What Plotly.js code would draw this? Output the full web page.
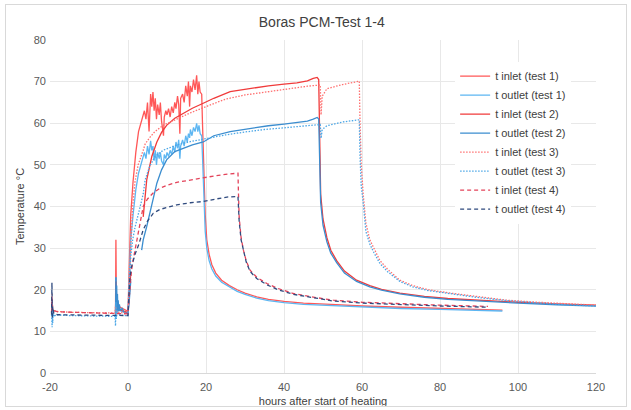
<!DOCTYPE html>
<html>
<head>
<meta charset="utf-8">
<script src="https://cdn.plot.ly/plotly-3.0.1.min.js"></script>
<style>
  html, body { margin: 0; padding: 0; background: #fff; }
  #wrap { position: relative; width: 631px; height: 410px; }
  #chart { width: 631px; height: 410px; }
  #frame { position: absolute; left: 5px; top: 4px; width: 620px; height: 401px; border: 1px solid #d9d9d9; pointer-events: none; }
</style>
</head>
<body>
<div id="wrap"><div id="chart"></div><div id="frame"></div></div>
<script>
// ---- Data (hours after start of heating, temperature °C) ----
const seriesNames = ["t inlet (test 1)", "t outlet (test 1)", "t inlet (test 2)", "t outlet (test 2)",
                     "t inlet (test 3)", "t outlet (test 3)", "t inlet (test 4)", "t outlet (test 4)"];

// Test 1 (solid, noisy, heating ends ~19 h)
const hoursT1 = [-3.2,-3.1,-3.0,-2.9,-2.6,-2,-1,0,0.3,0.7,1.3,2,2.7,3.5,4.2,
  4.6,5,5.4,5.8,6.1,6.4,6.7,7,7.3,7.6,8,8.3,8.6,9.1,9.3,9.7,10,10.4,10.8,11.2,11.6,12,12.3,12.7,13,13.3,13.5,14,14.4,14.8,15.2,15.5,15.8,16,16.4,16.8,17.2,17.6,17.9,18.2,18.5,18.9,
  19.1,19.3,19.5,19.8,20.2,20.8,21.5,22.5,24,26,28,30,33,36,40,45,52,60,70,80,90,96];
const inletT1 = [14.5,32,20,18,16.5,15.8,15.2,14.8,25,38,46,53,58,61,63,
  61,65,58,67,64,67.5,63,66,61,64.5,62,65,60.5,57,61.5,63,62,63.5,61.5,64,62.5,65,63.5,66.5,64.5,57.5,66,67,65,69,66.5,70,64,69,67.5,70.5,68,71.5,67,70,67.5,67,
  60,52,45,38,32,28.5,26,24,22.3,21,20,19.2,18.3,17.7,17.2,16.8,16.5,16.1,15.8,15.5,15.3,15.1];
const outletT1 = [13,23,18,16.5,15.5,15,14.6,14.3,22,32,38,44,48,51,53,
  51.5,54.5,52.5,55.8,53.5,54.5,51,53.5,50,53,51.5,53,51,50,52.5,51.5,53,52,53.5,52.5,54.5,53,55.5,54,56,51.5,54.5,56,54.5,57,55.5,57.5,56.5,58.5,57,59,58,60,58,59.5,57.5,57,
  52,46,40,34,30,27,25,23.3,21.8,20.6,19.6,18.9,18,17.4,16.9,16.5,16.2,15.8,15.5,15.3,15.1,14.9];

// Test 2 (solid, heating ends ~49 h); data gap during early heating
const hoursT2 = [-3.2,-3.1,-3.0,-2.9,-2.8,-2.7,-2.6,-2.5,-2.4,-2.2,-2,-1.5,-1,0,0.3,0.7,null,
  3.5,3.9,4.8,6.1,7.4,8.6,9.9,12,14.2,16.5,19.3,22,26.2,31.3,36,40,43.3,46,47.5,48.5,48.9,
  49,49.1,49.2,49.4,50,51,52,53.5,55.5,58.6,62,65,69.7,76,82,89.4,100,110,120];
const inletT2 = [14.5,22,16,19,15.5,17,15.2,16,15,15.5,15.2,15,14.8,14.5,18,24,null,
  null,37.5,46.4,52,55.5,57.8,59.5,61.2,62.4,63.6,64.8,66,67.6,68.4,69,69.4,69.7,70.2,70.8,71,70.5,
  65,55,50,43,37,32.5,29.5,27,24.5,22.3,21,20.1,19.2,18.4,17.9,17.5,17,16.6,16.3];
const outletT2 = [14,23,15,21,14.5,19,15,17.5,14.8,16.5,15,15.5,14.6,14.2,17,22,null,
  29.5,32,35.2,40.8,45.6,48.8,51.2,53.2,54,54.8,55.5,57,58,58.8,59.4,59.8,60.2,60.5,61,61.4,61,
  56,50,46,41,35.5,31.5,28.8,26.5,24,22,20.7,19.9,19,18.2,17.7,17.3,16.8,16.4,16.1];

// Test 3 (dotted, heating ends ~59 h)
const hoursT3 = [-19.6,-19.5,-19.45,-19.4,-19.3,-19.2,-19,-18.5,-15,-10,-5,-3.3,-3.2,-3.1,-3,-2.8,-2,-1,0,
  0.3,0.7,1.2,1.8,2.6,3.9,4.4,5.5,6.9,9,12.5,16,20,25,30,35,40,43,46,49.3,49.5,49.8,51,55,59,59.3,
  59.5,59.8,60.3,61,62,63,64.6,66.5,69.7,73,77,82.6,90,97,105,112,120];
const inletT3 = [14.5,19,16,17,15.5,15.2,15,14.8,14.6,14.5,14.4,14.4,16,15,14.8,14.6,14.5,14.4,14.3,
  22,32,40,46,50,53.5,55,56.5,58,59.5,61,62.5,64,65.8,66.8,67.5,68.2,68.6,68.9,69.2,62,66.5,68.3,69.3,70,70.1,
  60,50,43,36,32,30,27,25,22.3,21,20,19.2,18.3,17.5,17,16.6,16.3];
const outletT3 = [14,12,11,17,12,15,13.5,14,13.8,13.7,13.6,13.6,11.3,17,13,14.5,13.9,13.8,13.8,
  20,28,32,35,38,43,46.4,49.5,52,53.5,54.8,55.6,56.3,57.2,57.9,58.5,58.9,59.2,59.5,59.7,56.4,58.5,59.4,60.3,60.8,60.8,
  52,45,41,34,31,29,26.3,24.4,22,20.7,19.8,19,18.1,17.4,16.8,16.4,16.1];

// Test 4 (dashed, heating ends ~28 h)
const hoursT4 = [-19.6,-19.5,-19.4,-19.3,-19,-18,-10,-5,-3,-1,0,
  0.2,0.5,0.9,1.4,1.8,2.8,3.9,5,6.5,8.2,10,12.5,16,19.3,22.5,25.7,28.2,
  28.3,28.5,29,29.6,30.3,31.3,33,35.6,38.5,42.4,47,52.6,60,70,80,88,92.3];
const inletT4 = [14.5,18,15.5,15.2,15,14.7,14.4,14.3,14.3,14.2,14.2,
  17,21,24.7,27.5,29.5,35,40,41.8,43.3,44.4,45.1,45.8,46.4,46.9,47.4,47.8,48,
  44,37.5,32.5,29.5,27,24.7,23,21.5,20.3,19.1,18.3,17.5,17,16.6,16.3,16.1,16];
const outletT4 = [14,21.7,13,16,14.2,14,13.9,13.8,13.8,13.8,13.8,
  18,23,25.5,27.1,28.5,31,34.4,36.5,38.4,39.3,39.8,40.4,40.9,41.2,41.8,42.3,42.4,
  40,36.5,32,29.2,26.7,24.4,22.7,21.2,20,18.9,18.1,17.3,16.8,16.4,16.1,15.9,15.8];

const xTicks = [-20, 0, 20, 40, 60, 80, 100, 120];
const yTicks = [0, 10, 20, 30, 40, 50, 60, 70, 80];

// ---- Styles ----
const styles = [
  {color: "#ff5757", dash: "solid"},
  {color: "#5db6f2", dash: "solid"},
  {color: "#f03a3a", dash: "solid"},
  {color: "#3b8dcf", dash: "solid"},
  {color: "#ff6f6f", dash: "1.5px,1.5px"},
  {color: "#4aa6e6", dash: "1.5px,1.5px"},
  {color: "#e3435a", dash: "4px,3px"},
  {color: "#2f4a7e", dash: "4px,3px"}
];
const xs = [hoursT1, hoursT1, hoursT2, hoursT2, hoursT3, hoursT3, hoursT4, hoursT4];
const ys = [inletT1, outletT1, inletT2, outletT2, inletT3, outletT3, inletT4, outletT4];

const traces = seriesNames.map((name, i) => ({
  type: "scatter",
  mode: "lines",
  name: name,
  x: xs[i],
  y: ys[i],
  connectgaps: false,
  line: {color: styles[i].color, width: 1.3, dash: styles[i].dash},
  hoverinfo: "x+y+name"
}));

const fontFam = "Liberation Sans, Arial, sans-serif";
const layout = {
  width: 631,
  height: 410,
  margin: {l: 50, r: 35, t: 40, b: 37},
  paper_bgcolor: "#ffffff",
  plot_bgcolor: "#ffffff",
  font: {family: fontFam, size: 11, color: "#595959"},
  title: {text: "Boras PCM-Test 1-4", x: 0.51, xanchor: "center", y: 0.945, yanchor: "middle",
          font: {family: fontFam, size: 14, color: "#404040"}},
  xaxis: {
    range: [-20, 120], tickvals: xTicks, ticktext: xTicks.map(String),
    showgrid: true, gridcolor: "#e8e8e8", gridwidth: 1,
    zeroline: false, showline: true, linecolor: "#d9d9d9", linewidth: 1,
    ticks: "", ticklabelstandoff: 4, tickfont: {size: 11, color: "#595959"},
    title: {text: "hours after start of heating", font: {size: 11, color: "#404040"}, standoff: 5}
  },
  yaxis: {
    range: [0, 80], tickvals: yTicks, ticktext: yTicks.map(String),
    showgrid: true, gridcolor: "#e8e8e8", gridwidth: 1,
    zeroline: false, showline: false,
    ticks: "", ticklabelstandoff: 3, tickfont: {size: 11, color: "#595959"},
    title: {text: "Temperature °C", font: {size: 11, color: "#404040"}, standoff: 6}
  },
  showlegend: true,
  legend: {
    x: 0.742, y: 0.935, xanchor: "left", yanchor: "top",
    bgcolor: "#ffffff", borderwidth: 0,
    font: {family: fontFam, size: 11, color: "#404040"},
    tracegroupgap: 0
  }
};

Plotly.newPlot("chart", traces, layout, {displayModeBar: false, staticPlot: true});
</script>
</body>
</html>
